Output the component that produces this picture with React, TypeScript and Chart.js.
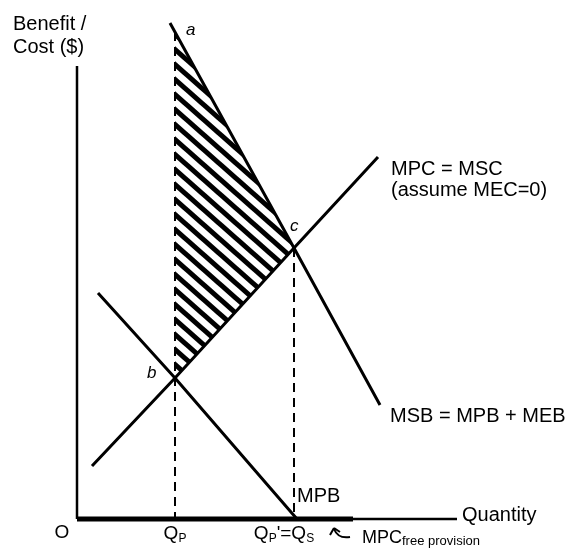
import React, { useEffect, useRef } from "react";
import { Chart, registerables } from "chart.js";
Chart.register(...registerables);

// ---- data (economic diagram units) ----
const QP = 9.8;
const QS = 21.7;
const msbX = [9.3, 21.7, 30.3];
const msbY = [49.6, 27.1, 11.4];
const mpcX = [1.5, 9.8, 21.7, 30.1];
const mpcY = [5.3, 14.1, 27.1, 36.2];
const mpbX = [2.1, 9.8, 22.0];
const mpbY = [22.6, 14.1, 0];
const hatchX = [QP, QS];
const hatchTopY = [48.7, 27.1];
const hatchBottomY = [14.1, 27.1];
const cY = 27.1;
const yAxisTop = 45.3;
const xAxisEnd = 38.0;
const freeProvisionEnd = 27.6;

const X_MIN = -7.7, X_MAX = 50.1, Y_MIN = -3.3, Y_MAX = 51.9;

type Lbl = { parts: { t: string; size: number; dy?: number; italic?: boolean }[]; x: number; y: number; align?: "left" | "center" };
const labels: Lbl[] = [
  { parts: [{ t: "Benefit /", size: 20 }], x: -6.4, y: 48.9 },
  { parts: [{ t: "Cost ($)", size: 20 }], x: -6.4, y: 46.6 },
  { parts: [{ t: "a", size: 17, italic: true }], x: 10.9, y: 48.4 },
  { parts: [{ t: "b", size: 17, italic: true }], x: 7.0, y: 14.1 },
  { parts: [{ t: "c", size: 17, italic: true }], x: 21.3, y: 28.8 },
  { parts: [{ t: "MPC = MSC", size: 20 }], x: 31.4, y: 34.4 },
  { parts: [{ t: "(assume MEC=0)", size: 20 }], x: 31.4, y: 32.3 },
  { parts: [{ t: "MSB = MPB + MEB", size: 20 }], x: 31.3, y: 9.7 },
  { parts: [{ t: "MPB", size: 20 }], x: 22.0, y: 1.7 },
  { parts: [{ t: "Quantity", size: 20 }], x: 38.5, y: -0.2 },
  { parts: [{ t: "O", size: 19 }], x: -1.5, y: -1.9, align: "center" },
  { parts: [{ t: "Q", size: 19 }, { t: "P", size: 12, dy: 3 }], x: QP, y: -2.0, align: "center" },
  { parts: [{ t: "Q", size: 19 }, { t: "P", size: 12, dy: 3 }, { t: "'=Q", size: 19 }, { t: "S", size: 12, dy: 3 }], x: 20.7, y: -2.0, align: "center" },
  { parts: [{ t: "MPC", size: 18 }, { t: "free provision", size: 13, dy: 2 }], x: 28.5, y: -2.4 },
];

function makeHatch(): CanvasPattern | string {
  const w = 17, h = 15;
  const c = document.createElement("canvas");
  c.width = w; c.height = h;
  const g = c.getContext("2d");
  if (!g) return "#000";
  g.strokeStyle = "#000";
  g.lineWidth = 5;
  for (let k = -1; k <= 1; k++) {
    g.beginPath();
    g.moveTo(-w, -h + k * h);
    g.lineTo(2 * w, 2 * h + k * h);
    g.stroke();
  }
  return g.createPattern(c, "repeat") || "#000";
}

const pts = (xs: number[], ys: number[]) => xs.map((x, i) => ({ x, y: ys[i] }));

export default function App() {
  const ref = useRef<HTMLCanvasElement | null>(null);
  useEffect(() => {
    if (!ref.current) return;
    const hatch = makeHatch();
    const line = (data: any[], extra: any = {}) => ({
      data,
      showLine: true,
      pointRadius: 0,
      borderColor: "#000",
      borderWidth: 3,
      fill: false,
      tension: 0,
      ...extra,
    });
    const textPlugin = {
      id: "texts",
      afterDatasetsDraw(chart: any) {
        const ctx = chart.ctx;
        const sx = chart.scales.x, sy = chart.scales.y;
        ctx.save();
        ctx.fillStyle = "#000";
        ctx.textBaseline = "alphabetic";
        ctx.textAlign = "left";
        for (const l of labels) {
          let total = 0;
          for (const p of l.parts) {
            ctx.font = `${p.italic ? "italic " : ""}${p.size}px "Liberation Sans", Arial, sans-serif`;
            total += ctx.measureText(p.t).width;
          }
          let px = sx.getPixelForValue(l.x);
          const py = sy.getPixelForValue(l.y);
          if (l.align === "center") px -= total / 2;
          for (const p of l.parts) {
            ctx.font = `${p.italic ? "italic " : ""}${p.size}px "Liberation Sans", Arial, sans-serif`;
            ctx.fillText(p.t, px, py + (p.dy || 0));
            px += ctx.measureText(p.t).width;
          }
        }
        // hook arrow pointing to the free-provision line
        const ax = sx.getPixelForValue(27.3), ay = sy.getPixelForValue(-1.8);
        ctx.strokeStyle = "#000";
        ctx.lineWidth = 2;
        ctx.beginPath();
        ctx.moveTo(ax, ay);
        ctx.quadraticCurveTo(ax - 12, ay + 2, ax - 16, ay - 8);
        ctx.stroke();
        ctx.beginPath();
        ctx.moveTo(ax - 16, ay - 9);
        ctx.lineTo(ax - 20, ay - 2);
        ctx.moveTo(ax - 16, ay - 9);
        ctx.lineTo(ax - 10, ay - 5);
        ctx.stroke();
        ctx.restore();
      },
    };
    const chart = new Chart(ref.current, {
      type: "scatter",
      data: {
        datasets: [
          line(pts(hatchX, hatchTopY), { borderWidth: 0, fill: 1, backgroundColor: hatch }),
          line(pts(hatchX, hatchBottomY), { borderWidth: 0 }),
          line(pts(msbX, msbY)),
          line(pts(mpcX, mpcY)),
          line(pts(mpbX, mpbY)),
          line(pts([QP, QP], [hatchTopY[0], 0]), { borderWidth: 2, borderDash: [9, 6] }),
          line(pts([QS, QS], [cY, 0]), { borderWidth: 2, borderDash: [9, 6] }),
          line(pts([0, 0], [0, yAxisTop]), { borderWidth: 2.5 }),
          line(pts([0, xAxisEnd], [0, 0]), { borderWidth: 2.5 }),
          line(pts([0, freeProvisionEnd], [0, 0]), { borderWidth: 5 }),
        ],
      },
      options: {
        animation: false,
        responsive: false,
        layout: { padding: 0 },
        plugins: { legend: { display: false }, tooltip: { enabled: false } },
        scales: {
          x: { type: "linear", min: X_MIN, max: X_MAX, display: false },
          y: { type: "linear", min: Y_MIN, max: Y_MAX, display: false },
        },
      },
      plugins: [textPlugin],
    });
    return () => chart.destroy();
  }, []);
  return (
    <div style={{ position: "absolute", left: 0, top: 0, width: 578, height: 552, background: "#fff" }}>
      <canvas ref={ref} width={578} height={552} style={{ display: "block" }} />
    </div>
  );
}
